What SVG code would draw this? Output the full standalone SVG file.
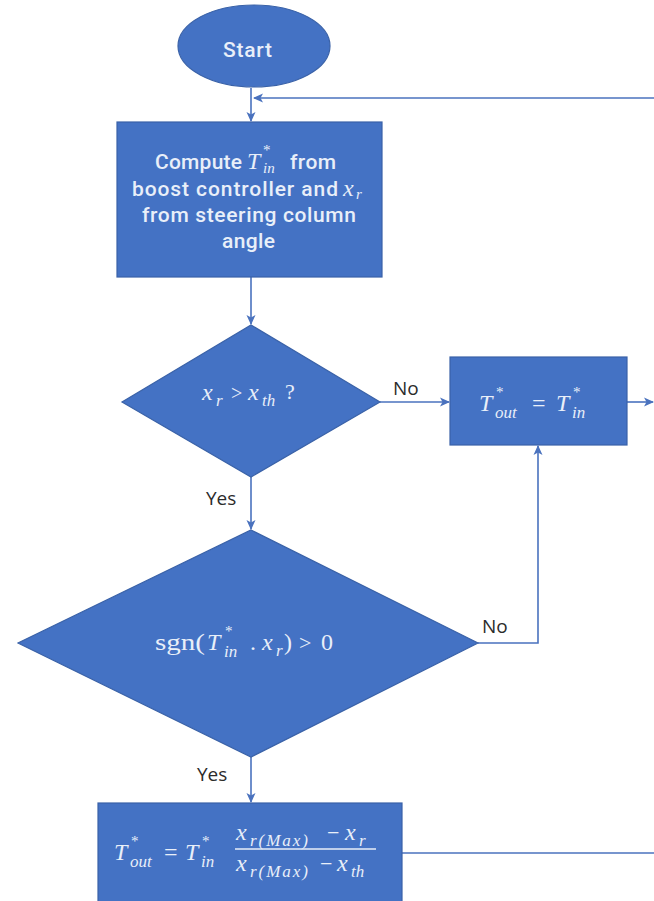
<svg xmlns="http://www.w3.org/2000/svg" width="654" height="901" viewBox="0 0 654 901">
<style>
.node{fill:#4472C4;stroke:#3A62A8;stroke-width:1.2}
.conn{fill:none;stroke:#4A72BE;stroke-width:1.6}
.lbl{font-family:"Open Sans","Liberation Sans",sans-serif;font-size:19px;fill:#2b2b2b}
.t{font-family:Roboto,"Liberation Sans",sans-serif;font-size:21px;font-weight:500;fill:#E9EFF9}
.m{font-family:"Liberation Serif","DejaVu Serif",serif;font-style:italic;font-size:24px;font-weight:normal;fill:#E9EFF9}
.r{font-style:normal}
.sb{font-size:17px}
.s15{font-size:15px}
.sp{font-size:15px;font-style:normal}
</style>
<defs>
<marker id="arr" markerUnits="userSpaceOnUse" markerWidth="10" markerHeight="10" viewBox="0 0 10 10" refX="9" refY="5" orient="auto">
<path d="M0,0.5 L10,5 L0,9.5 L2.5,5 Z" fill="#4A72BE"/>
</marker>
</defs>
<rect width="654" height="901" fill="#ffffff"/>
<g id="connectors">
<line class="conn" x1="251" y1="88" x2="251" y2="121" marker-end="url(#arr)"/>
<line class="conn" x1="654" y1="98" x2="254" y2="98" marker-end="url(#arr)"/>
<line class="conn" x1="251" y1="277" x2="251" y2="324" marker-end="url(#arr)"/>
<line class="conn" x1="380" y1="402" x2="449" y2="402" marker-end="url(#arr)"/>
<line class="conn" x1="627" y1="402" x2="653" y2="402" marker-end="url(#arr)"/>
<line class="conn" x1="251" y1="477" x2="251" y2="529" marker-end="url(#arr)"/>
<polyline class="conn" points="478,643 538,643 538,446" marker-end="url(#arr)"/>
<line class="conn" x1="251" y1="757" x2="251" y2="802" marker-end="url(#arr)"/>
<line class="conn" x1="402" y1="853" x2="654" y2="853"/>
<text class="lbl" x="393" y="395">No</text>
<text class="lbl" x="206" y="505">Yes</text>
<text class="lbl" x="482" y="633">No</text>
<text class="lbl" x="197" y="781">Yes</text>
</g>
<g id="start">
<ellipse class="node" cx="254" cy="46" rx="76" ry="41"/>
<text class="t" x="223" y="57" textLength="49" lengthAdjust="spacing">Start</text>
</g>
<g id="compute">
<rect class="node" x="117" y="122" width="265" height="155"/>
<text class="t" x="155" y="169"><tspan textLength="87" lengthAdjust="spacing">Compute</tspan><tspan class="m" x="247" y="169">T</tspan><tspan class="m sp" x="263" y="155">*</tspan><tspan class="m s15" x="263" y="173">in</tspan><tspan x="290" y="169" textLength="46" lengthAdjust="spacing">from</tspan></text>
<text class="t" x="132" y="196"><tspan textLength="206" lengthAdjust="spacing">boost controller and</tspan><tspan class="m" x="343" y="196">x</tspan><tspan class="m s15" x="356" y="199">r</tspan></text>
<text class="t" x="142" y="222" textLength="214" lengthAdjust="spacing">from steering column</text>
<text class="t" x="222" y="248" textLength="53" lengthAdjust="spacing">angle</text>
</g>
<g id="decision1">
<polygon class="node" points="251,325 380,402 251,477 122,402"/>
<text class="m" x="202" y="400">x<tspan class="sb" x="216" y="406">r</tspan><tspan class="r" font-size="20" x="231" y="400">&gt;</tspan><tspan x="248" y="400">x</tspan><tspan class="sb" x="262" y="406">th</tspan><tspan class="r" font-size="22" x="285" y="399">?</tspan></text>
</g>
<g id="assign">
<rect class="node" x="450" y="357" width="177" height="88"/>
<text class="m" x="479" y="411">T<tspan class="sp" x="496" y="397">*</tspan><tspan class="sb" x="495" y="418">out</tspan><tspan class="r" x="532" y="411">=</tspan><tspan x="556" y="411">T</tspan><tspan class="sp" x="573" y="397">*</tspan><tspan class="sb" x="572" y="418">in</tspan></text>
</g>
<g id="decision2">
<polygon class="node" points="251,530 478,643 251,757 18,643"/>
<text class="m" x="155" y="650"><tspan class="r" textLength="50" lengthAdjust="spacingAndGlyphs">sgn(</tspan><tspan x="207" y="650">T</tspan><tspan class="sp" x="225" y="636">*</tspan><tspan class="sb" x="224" y="657">in</tspan><tspan class="r" x="250" y="650">.</tspan><tspan x="262" y="650">x</tspan><tspan class="sb" x="276" y="656">r</tspan><tspan class="r" x="284" y="650">)</tspan><tspan class="r" font-size="22" x="299" y="650">&gt;</tspan><tspan class="r" x="321" y="650">0</tspan></text>
</g>
<g id="scale">
<rect class="node" x="98" y="803" width="304" height="110"/>
<text class="m" x="114" y="860">T<tspan class="sp" x="131" y="846">*</tspan><tspan class="sb" x="130" y="867">out</tspan><tspan class="r" x="164" y="860">=</tspan><tspan x="185" y="860">T</tspan><tspan class="sp" x="202" y="846">*</tspan><tspan class="sb" x="201" y="867">in</tspan></text>
<text class="m" x="236" y="840" font-size="23">x<tspan class="sb" x="250" y="846" textLength="58" lengthAdjust="spacing">r(Max)</tspan><tspan class="r" font-size="22" x="327" y="840">−</tspan><tspan x="345" y="840">x</tspan><tspan class="sb" x="359" y="846">r</tspan></text>
<line x1="235" y1="849" x2="376" y2="849" stroke="#E9EFF9" stroke-width="1.3"/>
<text class="m" x="236" y="871" font-size="23">x<tspan class="sb" x="250" y="877" textLength="58" lengthAdjust="spacing">r(Max)</tspan><tspan class="r" font-size="22" x="320" y="871">−</tspan><tspan x="337" y="871">x</tspan><tspan class="sb" x="351" y="877">th</tspan></text>
</g>
</svg>
